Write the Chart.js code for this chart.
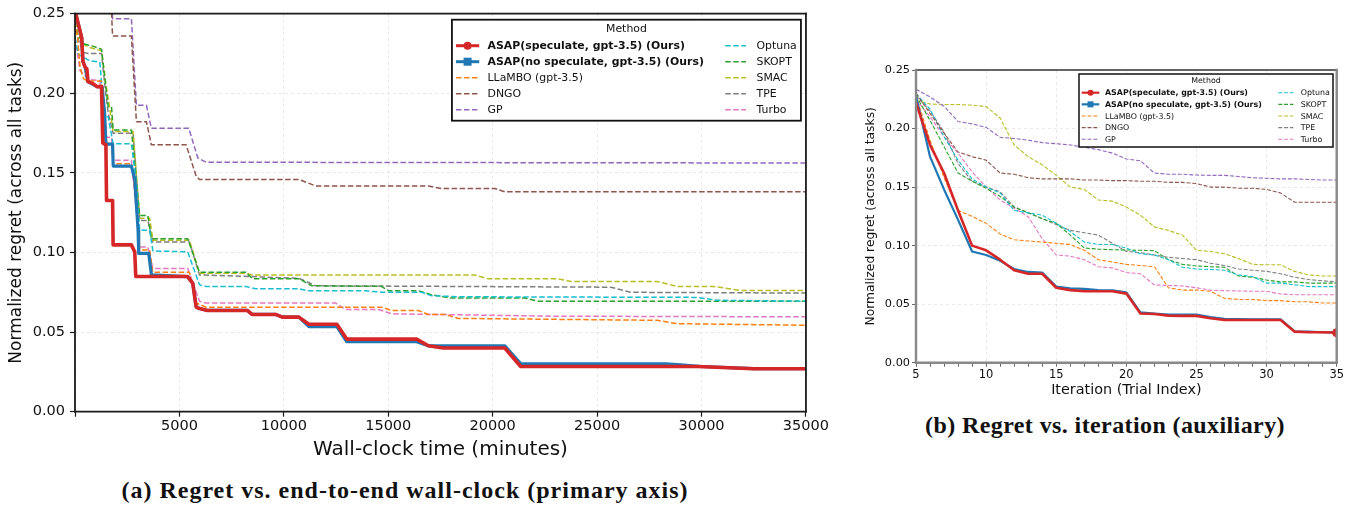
<!DOCTYPE html>
<html>
<head>
<meta charset="utf-8">
<script src="https://cdn.jsdelivr.net/npm/chart.js@4.4.0/dist/chart.umd.min.js"></script>
<style>
html, body { margin: 0; padding: 0; background: #fff; }
body { width: 1369px; height: 508px; position: relative; overflow: hidden; }
#boxWall { position: absolute; left: 0; top: 0; width: 830px; height: 462px; }
#boxIter { position: absolute; left: 830px; top: 50px; width: 539px; height: 349px; }
.caption { position: absolute; font-family: "Liberation Serif", serif; font-weight: bold; font-size: 24px; line-height: 28px; white-space: nowrap; transform: translateX(-50%); color: #111; }
</style>
</head>
<body>
<div id="boxWall"><canvas id="wallChart"></canvas></div>
<div id="boxIter"><canvas id="iterChart"></canvas></div>
<div class="caption" style="left:405px; top:476px; letter-spacing:1px;">(a) Regret vs. end-to-end wall-clock (primary axis)</div>
<div class="caption" style="left:1105px; top:411px; letter-spacing:0.4px;">(b) Regret vs. iteration (auxiliary)</div>
<script>
// series names (legend order)
const methods = ['ASAP(speculate, gpt-3.5) (Ours)', 'ASAP(no speculate, gpt-3.5) (Ours)', 'LLaMBO (gpt-3.5)', 'DNGO', 'GP',
                 'Optuna', 'SKOPT', 'SMAC', 'TPE', 'Turbo'];
const colors = ['#d62728', '#1f77b4', '#ff7f0e', '#8c564b', '#9467bd', '#17becf', '#2ca02c', '#bcbd22', '#7f7f7f', '#e377c2'];

// (a) wall-clock minutes vs regret, [minutes, regret]
const wcSpeculate = [[0,0.252],[320,0.235],[380,0.220],[480,0.2166],[570,0.2153],[620,0.2073],[860,0.2061],[1050,0.2042],[1270,0.2042],[1330,0.1688],[1480,0.1676],[1510,0.1327],[1800,0.1327],[1825,0.1048],[2700,0.1048],[2860,0.1004],[2910,0.0849],[5390,0.0849],[5640,0.0806],[5800,0.0657],[5960,0.0648],[6340,0.0636],[8250,0.0636],[8480,0.0611],[9610,0.0611],[9930,0.0594],[10720,0.0594],[11200,0.0549],[12540,0.0549],[13010,0.0456],[16360,0.0456],[16920,0.0414],[17630,0.0400],[20580,0.0400],[21340,0.0284],[29800,0.0284],[32500,0.0270],[35000,0.0270]];
const wcNoSpeculate = [[0,0.252],[320,0.235],[380,0.220],[480,0.2166],[620,0.2073],[1050,0.2042],[1300,0.2042],[1420,0.1870],[1480,0.1681],[1800,0.1681],[1830,0.1543],[2700,0.1543],[2860,0.1460],[3020,0.1140],[3050,0.0994],[3530,0.0994],[3660,0.0860],[5390,0.0849],[5640,0.0806],[5800,0.0660],[5960,0.0648],[6340,0.0636],[8250,0.0636],[8480,0.0611],[9610,0.0611],[9930,0.0594],[10720,0.0594],[11200,0.0535],[12540,0.0535],[13010,0.0440],[16360,0.0440],[16920,0.0414],[20580,0.0414],[21340,0.0302],[28300,0.0300],[29000,0.0294],[30000,0.0284],[32500,0.0270],[35000,0.0270]];
const wcLlambo = [[0,0.245],[110,0.237],[240,0.2167],[400,0.2092],[590,0.2077],[1270,0.2077],[1430,0.1894],[1510,0.1687],[1750,0.1687],[1825,0.1557],[2700,0.1557],[2940,0.1335],[3100,0.1015],[3575,0.1015],[3720,0.0876],[5480,0.0876],[5800,0.0683],[6280,0.0656],[14680,0.0656],[15160,0.0636],[16440,0.0636],[16920,0.0611],[17720,0.0611],[18350,0.0586],[27880,0.0574],[28830,0.0553],[35000,0.0543]];
const wcDngo = [[0,0.27],[1500,0.2505],[1750,0.250],[1800,0.2360],[2700,0.2360],[2940,0.1822],[3420,0.1822],[3655,0.1677],[5320,0.1677],[5800,0.1480],[5960,0.1459],[10720,0.1459],[11520,0.1418],[16920,0.1418],[17550,0.1402],[20100,0.1402],[20580,0.1381],[35000,0.1381]];
const wcGp = [[0,0.27],[1750,0.26],[1800,0.2469],[2700,0.2469],[2940,0.1925],[3420,0.1925],[3655,0.1780],[5450,0.1780],[5880,0.1594],[6280,0.1567],[35000,0.1562]];
const wcOptuna = [[0,0.235],[160,0.2245],[400,0.2226],[715,0.2205],[1190,0.2195],[1350,0.1936],[1480,0.1853],[1590,0.1853],[1825,0.1683],[2700,0.1683],[2940,0.1439],[3100,0.1139],[3575,0.1139],[3730,0.1010],[5400,0.1004],[5960,0.0797],[6280,0.0787],[8180,0.0787],[8660,0.0772],[10720,0.0772],[11200,0.0759],[13900,0.0759],[14690,0.0751],[16590,0.0751],[17060,0.0729],[18350,0.0722],[29790,0.0718],[30740,0.0700],[35000,0.0694]];
const wcSkopt = [[0,0.245],[160,0.2360],[480,0.2308],[800,0.2298],[1270,0.2277],[1430,0.2091],[1590,0.1915],[1750,0.1915],[1825,0.1770],[2700,0.1770],[3100,0.1232],[3490,0.1232],[3655,0.1087],[5400,0.1087],[5960,0.0876],[8180,0.0876],[8500,0.0835],[10720,0.0835],[11340,0.0791],[14680,0.0787],[15010,0.0760],[16440,0.0760],[17060,0.0735],[18020,0.0714],[21540,0.0714],[22160,0.0694],[35000,0.0694]];
const wcSmac = [[0,0.245],[80,0.2370],[240,0.2350],[400,0.2308],[715,0.2288],[1270,0.2267],[1480,0.2060],[1670,0.1898],[1825,0.1760],[2780,0.1760],[3100,0.1215],[3575,0.1215],[3730,0.1077],[5480,0.1077],[5960,0.0869],[8180,0.0869],[8500,0.0859],[19140,0.0859],[19780,0.0835],[23110,0.0835],[23750,0.0818],[27880,0.0818],[28830,0.0787],[30580,0.0787],[31850,0.0762],[35000,0.0762]];
const wcTpe = [[0,0.240],[240,0.2308],[400,0.2257],[630,0.2250],[1270,0.2250],[1430,0.2049],[1590,0.1874],[1825,0.1749],[2780,0.1749],[3100,0.1201],[3490,0.1201],[3730,0.1066],[5480,0.1066],[5960,0.0859],[8340,0.0849],[10720,0.0838],[11520,0.0791],[25660,0.0782],[26610,0.0750],[35000,0.0745]];
const wcTurbo = [[0,0.235],[160,0.2215],[240,0.2142],[480,0.2111],[715,0.2085],[1190,0.2080],[1350,0.1900],[1510,0.1724],[1750,0.1724],[1825,0.1580],[2700,0.1580],[3100,0.1035],[3490,0.1035],[3730,0.0899],[5400,0.0899],[5960,0.0694],[6280,0.0683],[12470,0.0683],[12950,0.0642],[14540,0.0642],[15160,0.0615],[22780,0.0600],[35000,0.0596]];

// (b) regret per iteration
const iterations = [5,6,7,8,9,10,11,12,13,14,15,16,17,18,19,20,21,22,23,24,25,26,27,28,29,30,31,32,33,34,35];
const itSpeculate = [0.222,0.186,0.162,0.130,0.100,0.096,0.088,0.079,0.076,0.076,0.064,0.062,0.061,0.061,0.061,0.059,0.042,0.0416,0.0402,0.040,0.040,0.038,0.0365,0.0365,0.0365,0.0365,0.0365,0.0265,0.026,0.026,0.0256];
const itNoSpeculate = [0.228,0.176,0.148,0.122,0.095,0.092,0.087,0.080,0.0775,0.077,0.065,0.0635,0.063,0.062,0.0617,0.060,0.043,0.042,0.041,0.041,0.041,0.039,0.0374,0.0372,0.037,0.037,0.037,0.0268,0.0265,0.026,0.026];
const itLlambo = [0.228,0.19,0.158,0.130,0.125,0.119,0.110,0.105,0.104,0.103,0.102,0.101,0.096,0.088,0.086,0.084,0.083,0.082,0.064,0.062,0.062,0.061,0.055,0.054,0.054,0.053,0.053,0.052,0.052,0.051,0.051];
const itDngo = [0.230,0.213,0.196,0.180,0.176,0.173,0.162,0.161,0.158,0.157,0.157,0.157,0.156,0.156,0.1555,0.1555,0.155,0.155,0.154,0.154,0.153,0.150,0.150,0.149,0.149,0.148,0.145,0.137,0.137,0.137,0.137];
const itGp = [0.2335,0.227,0.219,0.206,0.204,0.201,0.1925,0.1915,0.190,0.188,0.187,0.186,0.184,0.182,0.179,0.174,0.1725,0.162,0.161,0.161,0.1603,0.160,0.160,0.159,0.158,0.1575,0.157,0.157,0.1565,0.156,0.156];
const itOptuna = [0.230,0.2165,0.193,0.173,0.157,0.150,0.145,0.130,0.128,0.126,0.119,0.112,0.103,0.101,0.101,0.098,0.093,0.092,0.088,0.0815,0.080,0.0797,0.079,0.075,0.0735,0.068,0.068,0.0665,0.065,0.065,0.065];
const itSkopt = [0.228,0.207,0.1845,0.162,0.155,0.149,0.142,0.133,0.128,0.123,0.119,0.109,0.098,0.097,0.0965,0.0963,0.096,0.0957,0.088,0.084,0.0826,0.082,0.0815,0.074,0.073,0.0706,0.069,0.069,0.068,0.068,0.068];
const itSmac = [0.224,0.221,0.2205,0.2205,0.220,0.2187,0.209,0.186,0.176,0.169,0.160,0.150,0.148,0.139,0.138,0.133,0.126,0.116,0.113,0.109,0.096,0.095,0.093,0.089,0.084,0.0836,0.0836,0.078,0.075,0.074,0.074];
const itTpe = [0.228,0.215,0.197,0.170,0.155,0.150,0.146,0.133,0.128,0.123,0.118,0.113,0.111,0.109,0.102,0.095,0.094,0.092,0.090,0.089,0.088,0.085,0.083,0.080,0.079,0.078,0.076,0.073,0.071,0.070,0.069];
const itTurbo = [0.225,0.21,0.193,0.179,0.163,0.150,0.139,0.132,0.1247,0.106,0.092,0.091,0.088,0.082,0.081,0.077,0.076,0.0664,0.066,0.0655,0.064,0.062,0.0615,0.0613,0.061,0.061,0.0587,0.058,0.058,0.058,0.058];

const wallSeries = [wcSpeculate, wcNoSpeculate, wcLlambo, wcDngo, wcGp, wcOptuna, wcSkopt, wcSmac, wcTpe, wcTurbo];
const iterSeries = [itSpeculate, itNoSpeculate, itLlambo, itDngo, itGp, itOptuna, itSkopt, itSmac, itTpe, itTurbo];

Chart.defaults.font.family = "'DejaVu Sans', sans-serif";
Chart.defaults.color = '#111';

// box round the plot area
const frame = {
  id: 'frame',
  afterDatasetsDraw(chart, args, o) {
    const {ctx, chartArea: a} = chart;
    ctx.save();
    ctx.lineCap = 'square';
    const edge = (x1, y1, x2, y2, c) => {
      ctx.strokeStyle = c.color; ctx.lineWidth = c.width;
      ctx.beginPath(); ctx.moveTo(x1, y1); ctx.lineTo(x2, y2); ctx.stroke();
    };
    edge(a.left, a.top, a.right, a.top, o.top);
    edge(a.right, a.top, a.right, a.bottom, o.side);
    edge(a.left, a.bottom, a.right, a.bottom, o.side);
    edge(a.left, a.top, a.left, a.bottom, o.side);
    ctx.restore();
  }
};

// matplotlib style legend box with title and two columns
const methodLegend = {
  id: 'methodLegend',
  afterDraw(chart, args, o) {
    const {ctx, chartArea: a} = chart;
    const left = a.right - o.right - o.width, top = a.top + o.top;
    ctx.save();
    ctx.fillStyle = '#fff';
    ctx.fillRect(left, top, o.width, o.height);
    ctx.strokeStyle = '#111'; ctx.lineWidth = o.border;
    ctx.strokeRect(left, top, o.width, o.height);
    ctx.fillStyle = '#111';
    ctx.textBaseline = 'middle';
    ctx.textAlign = 'center';
    ctx.font = o.size + "px 'DejaVu Sans'";
    ctx.fillText('Method', left + o.width / 2, top + o.titleY);
    ctx.textAlign = 'left';
    chart.data.datasets.forEach((ds, i) => {
      const col = i < 5 ? 0 : 1, row = i % 5;
      const y = top + o.rowY + row * o.rowGap;
      const x0 = left + o.handleX[col], x1 = x0 + o.handleW[col];
      ctx.setLineDash(ds.borderDash || []);
      ctx.strokeStyle = ds.borderColor;
      ctx.lineWidth = ds.legendWidth || ds.borderWidth;
      ctx.beginPath(); ctx.moveTo(x0, y); ctx.lineTo(x1, y); ctx.stroke();
      ctx.setLineDash([]);
      ctx.fillStyle = ds.borderColor;
      const mx = (x0 + x1) / 2;
      if (ds.legendMarker === 'circle') {
        ctx.beginPath(); ctx.arc(mx, y, o.marker, 0, Math.PI * 2); ctx.fill();
      } else if (ds.legendMarker === 'square') {
        ctx.fillRect(mx - o.marker, y - o.marker, o.marker * 2, o.marker * 2);
      }
      ctx.fillStyle = '#111';
      ctx.font = (i < 2 ? 'bold ' : '') + o.size + "px 'DejaVu Sans'";
      ctx.fillText(ds.label, left + o.textX[col], y + 0.5);
    });
    ctx.restore();
  }
};

function styleFor(i, big) {
  if (i < 2) {
    return {
      borderWidth: big ? (i === 0 ? 3.6 : 3.2) : (i === 0 ? 2.6 : 2.2),
      legendWidth: big ? 3 : 2.2,
      legendMarker: i === 0 ? 'circle' : 'square'
    };
  }
  return { borderWidth: big ? 1.5 : 1.1, borderDash: big ? [5.5, 2.5] : [4, 1.8] };
}

const wallDatasets = wallSeries.map((pts, i) => Object.assign({
  label: methods[i],
  data: pts.map(p => ({x: p[0], y: p[1]})),
  borderColor: colors[i],
  backgroundColor: colors[i],
  pointRadius: 0,
  tension: 0,
  borderJoinStyle: 'round',
  clip: 0
}, styleFor(i, true)));

new Chart(document.getElementById('wallChart'), {
  type: 'line',
  data: { datasets: wallDatasets },
  options: {
    responsive: true, maintainAspectRatio: false, animation: false, devicePixelRatio: 1,
    layout: { padding: { left: 0, top: 9, right: 23.3, bottom: 0 } },
    plugins: {
      legend: { display: false }, tooltip: { enabled: false },
      frame: { top: {color: '#1a1a1a', width: 1.8}, side: {color: '#1a1a1a', width: 1.8} },
      methodLegend: { right: 5, top: 6, width: 349, height: 101, border: 1.8, size: 10.9, titleY: 9,
        rowY: 26, rowGap: 16, handleX: [4, 273.3], handleW: [23.3, 20.7], textX: [35.6, 304.6], marker: 4 }
    },
    scales: {
      x: {
        type: 'linear', min: 0, max: 35000,
        afterFit: s => { s.height = 50.3; },
        ticks: { stepSize: 5000, maxRotation: 0, padding: 1, font: { size: 14.5 }, color: '#111',
          callback: v => v === 0 ? '' : String(v) },
        grid: { color: 'rgba(0,0,0,0.11)', lineWidth: 0.8, tickLength: 5, tickColor: '#1a1a1a', tickWidth: 1.2 },
        border: { display: false, dash: [3, 3] },
        title: { display: true, text: 'Wall-clock time (minutes)', font: { size: 20 }, color: '#111', padding: { top: 0, bottom: 0 } }
      },
      y: {
        min: 0, max: 0.25,
        afterFit: s => { s.width = 75; },
        ticks: { stepSize: 0.05, padding: 5, font: { size: 14.5 }, color: '#111', callback: v => v.toFixed(2) },
        grid: { color: 'rgba(0,0,0,0.11)', lineWidth: 0.8, tickLength: 5, tickColor: '#1a1a1a', tickWidth: 1.2 },
        border: { display: false, dash: [3, 3] },
        title: { display: true, text: 'Normalized regret (across all tasks)', font: { size: 17 }, color: '#111', padding: { top: 6, bottom: 0 } }
      }
    }
  },
  plugins: [frame, methodLegend]
});

const iterDatasets = iterSeries.map((vals, i) => Object.assign({
  label: methods[i],
  data: vals.map((v, k) => ({x: iterations[k], y: v})),
  borderColor: colors[i],
  backgroundColor: colors[i],
  pointRadius: i < 2 ? (c => c.dataIndex === iterations.length - 1 ? 4.5 : 0) : 0,
  pointStyle: i === 1 ? 'rect' : 'circle',
  pointBorderWidth: 0,
  tension: 0,
  borderJoinStyle: 'round',
  clip: 0
}, styleFor(i, false)));

new Chart(document.getElementById('iterChart'), {
  type: 'line',
  data: { datasets: iterDatasets },
  options: {
    responsive: true, maintainAspectRatio: false, animation: false, devicePixelRatio: 1,
    layout: { padding: { left: 30, top: 20, right: 32.3, bottom: 0 } },
    plugins: {
      legend: { display: false }, tooltip: { enabled: false },
      frame: { top: {color: '#333', width: 1.5}, side: {color: '#888', width: 2.4} },
      methodLegend: { right: 3.7, top: 4, width: 254, height: 73, border: 1.5, size: 7.9, titleY: 7,
        rowY: 18.7, rowGap: 11.65, handleX: [2.7, 199.3], handleW: [17.6, 15], textX: [26, 221.7], marker: 3 }
    },
    scales: {
      x: {
        type: 'linear', min: 5, max: 35,
        afterFit: s => { s.height = 36.3; },
        ticks: { stepSize: 1, autoSkip: false, maxRotation: 0, padding: 1, font: { size: 11.5 }, color: '#111',
          callback: v => v % 5 === 0 ? String(v) : '' },
        grid: { color: c => c.tick && c.tick.value % 5 === 0 ? 'rgba(0,0,0,0.11)' : 'rgba(0,0,0,0)',
          lineWidth: 0.8, tickLength: 4, tickColor: '#666', tickWidth: 1 },
        border: { display: false, dash: [3, 3] },
        title: { display: true, text: 'Iteration (Trial Index)', font: { size: 14.4 }, color: '#111', padding: { top: 0, bottom: 0 } }
      },
      y: {
        min: 0, max: 0.25,
        afterFit: s => { s.width = 56; },
        ticks: { stepSize: 0.05, padding: 2, font: { size: 11.3 }, color: '#111', callback: v => v.toFixed(2) },
        grid: { color: 'rgba(0,0,0,0.11)', lineWidth: 0.8, tickLength: 4, tickColor: '#666', tickWidth: 1 },
        border: { display: false, dash: [3, 3] },
        title: { display: true, text: 'Normalized regret (across all tasks)', font: { size: 12.3 }, color: '#111', padding: { top: 3.6, bottom: 0 } }
      }
    }
  },
  plugins: [frame, methodLegend]
});
</script>
</body>
</html>
